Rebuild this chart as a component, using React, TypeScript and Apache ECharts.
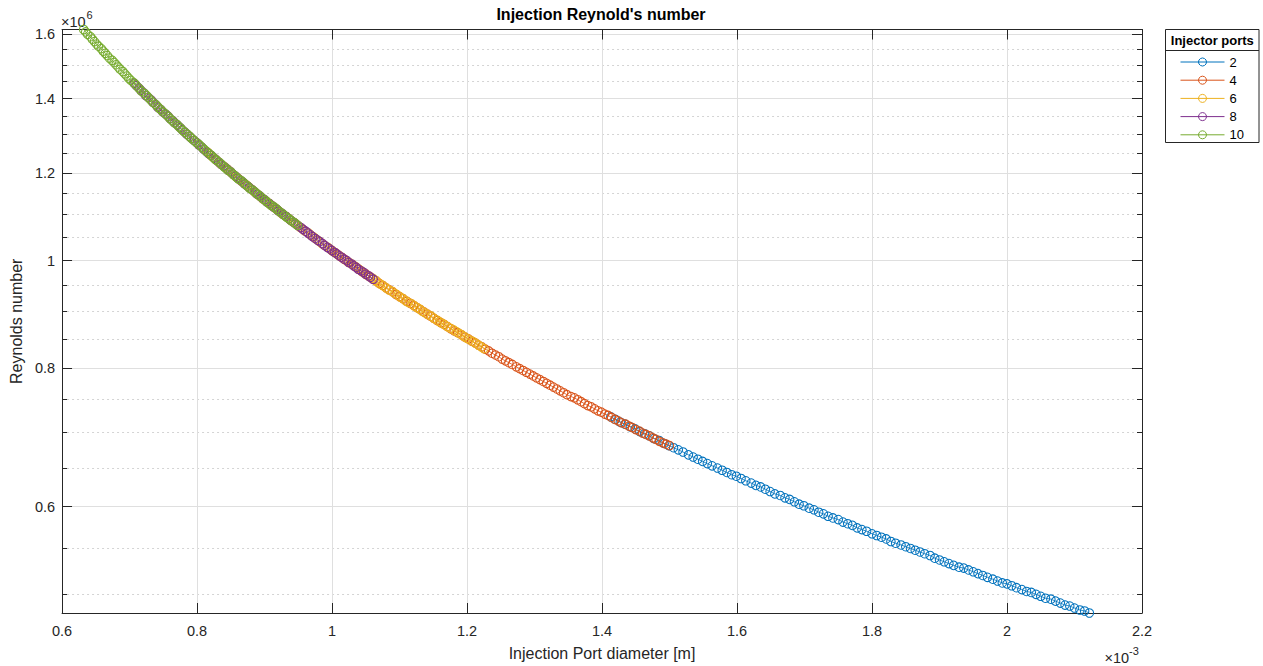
import React, { useEffect, useRef } from "react";
import * as echarts from "echarts";

// Injection port diameter (x 1e-3 m) and Reynolds number (x 1e6) per injector-port count
const portLabels = ["2", "4", "6", "8", "10"];
const portColors = ["#0072BD", "#D95319", "#EDB120", "#7E2F8E", "#77AC30"];

const d2 = [
  1.413,1.420,1.427,1.434,1.442,1.449,1.456,1.463,1.470,1.477,
  1.485,1.492,1.499,1.506,1.513,1.520,1.528,1.535,1.542,1.549,
  1.556,1.563,1.571,1.578,1.585,1.592,1.599,1.606,1.613,1.621,
  1.628,1.635,1.642,1.649,1.656,1.664,1.671,1.678,1.685,1.692,
  1.699,1.707,1.714,1.721,1.728,1.735,1.742,1.750,1.757,1.764,
  1.771,1.778,1.785,1.792,1.800,1.807,1.814,1.821,1.828,1.835,
  1.843,1.850,1.857,1.864,1.871,1.878,1.886,1.893,1.900,1.907,
  1.914,1.921,1.929,1.936,1.943,1.950,1.957,1.964,1.971,1.979,
  1.986,1.993,2.000,2.007,2.014,2.022,2.029,2.036,2.043,2.050,
  2.057,2.065,2.072,2.079,2.086,2.093,2.100,2.108,2.115,2.122,
];
const re2 = [
  0.723,0.719,0.715,0.712,0.708,0.705,0.701,0.698,0.695,0.691,
  0.688,0.684,0.681,0.678,0.675,0.672,0.668,0.665,0.662,0.659,
  0.656,0.653,0.650,0.647,0.644,0.641,0.639,0.636,0.633,0.630,
  0.627,0.625,0.622,0.619,0.616,0.614,0.611,0.609,0.606,0.603,
  0.601,0.598,0.596,0.593,0.591,0.588,0.586,0.584,0.581,0.579,
  0.577,0.574,0.572,0.570,0.567,0.565,0.563,0.561,0.558,0.556,
  0.554,0.552,0.550,0.548,0.546,0.544,0.542,0.539,0.537,0.535,
  0.533,0.531,0.529,0.528,0.526,0.524,0.522,0.520,0.518,0.516,
  0.514,0.512,0.511,0.509,0.507,0.505,0.503,0.502,0.500,0.498,
  0.496,0.495,0.493,0.491,0.489,0.488,0.486,0.484,0.483,0.481,
];

const d4 = [
  0.999,1.004,1.009,1.014,1.019,1.024,1.030,1.035,1.040,1.045,
  1.050,1.055,1.060,1.065,1.070,1.075,1.080,1.085,1.090,1.095,
  1.100,1.105,1.111,1.116,1.121,1.126,1.131,1.136,1.141,1.146,
  1.151,1.156,1.161,1.166,1.171,1.176,1.181,1.186,1.192,1.197,
  1.202,1.207,1.212,1.217,1.222,1.227,1.232,1.237,1.242,1.247,
  1.252,1.257,1.262,1.267,1.273,1.278,1.283,1.288,1.293,1.298,
  1.303,1.308,1.313,1.318,1.323,1.328,1.333,1.338,1.343,1.348,
  1.354,1.359,1.364,1.369,1.374,1.379,1.384,1.389,1.394,1.399,
  1.404,1.409,1.414,1.419,1.424,1.429,1.435,1.440,1.445,1.450,
  1.455,1.460,1.465,1.470,1.475,1.480,1.485,1.490,1.495,1.500,
];
const re4 = [
  1.022,1.017,1.012,1.007,1.002,0.997,0.992,0.987,0.982,0.977,
  0.973,0.968,0.963,0.959,0.954,0.950,0.945,0.941,0.937,0.932,
  0.928,0.924,0.919,0.915,0.911,0.907,0.903,0.899,0.895,0.891,
  0.887,0.883,0.879,0.876,0.872,0.868,0.864,0.861,0.857,0.853,
  0.850,0.846,0.843,0.839,0.836,0.832,0.829,0.825,0.822,0.819,
  0.815,0.812,0.809,0.806,0.802,0.799,0.796,0.793,0.790,0.787,
  0.784,0.781,0.778,0.775,0.772,0.769,0.766,0.763,0.760,0.757,
  0.754,0.752,0.749,0.746,0.743,0.740,0.738,0.735,0.732,0.730,
  0.727,0.725,0.722,0.719,0.717,0.714,0.712,0.709,0.707,0.704,
  0.702,0.699,0.697,0.695,0.692,0.690,0.687,0.685,0.683,0.681,
];

const d6 = [
  0.816,0.820,0.824,0.828,0.832,0.836,0.841,0.845,0.849,0.853,
  0.857,0.861,0.865,0.870,0.874,0.878,0.882,0.886,0.890,0.894,
  0.898,0.903,0.907,0.911,0.915,0.919,0.923,0.927,0.932,0.936,
  0.940,0.944,0.948,0.952,0.956,0.960,0.965,0.969,0.973,0.977,
  0.981,0.985,0.989,0.994,0.998,1.002,1.006,1.010,1.014,1.018,
  1.022,1.027,1.031,1.035,1.039,1.043,1.047,1.051,1.056,1.060,
  1.064,1.068,1.072,1.076,1.080,1.084,1.089,1.093,1.097,1.101,
  1.105,1.109,1.113,1.118,1.122,1.126,1.130,1.134,1.138,1.142,
  1.147,1.151,1.155,1.159,1.163,1.167,1.171,1.175,1.180,1.184,
  1.188,1.192,1.196,1.200,1.204,1.209,1.213,1.217,1.221,1.225,
];
const re6 = [
  1.252,1.245,1.239,1.233,1.227,1.221,1.215,1.209,1.203,1.197,
  1.191,1.186,1.180,1.174,1.169,1.163,1.158,1.152,1.147,1.142,
  1.136,1.131,1.126,1.121,1.116,1.111,1.106,1.101,1.096,1.091,
  1.086,1.082,1.077,1.072,1.068,1.063,1.059,1.054,1.050,1.045,
  1.041,1.036,1.032,1.028,1.023,1.019,1.015,1.011,1.007,1.003,
  0.999,0.995,0.991,0.987,0.983,0.979,0.975,0.971,0.967,0.964,
  0.960,0.956,0.952,0.949,0.945,0.941,0.938,0.934,0.931,0.927,
  0.924,0.920,0.917,0.914,0.910,0.907,0.904,0.900,0.897,0.894,
  0.891,0.887,0.884,0.881,0.878,0.875,0.872,0.869,0.866,0.863,
  0.860,0.857,0.854,0.851,0.848,0.845,0.842,0.839,0.836,0.833,
];

const d8 = [
  0.707,0.710,0.714,0.717,0.721,0.724,0.728,0.732,0.735,0.739,
  0.742,0.746,0.749,0.753,0.757,0.760,0.764,0.767,0.771,0.775,
  0.778,0.782,0.785,0.789,0.792,0.796,0.800,0.803,0.807,0.810,
  0.814,0.817,0.821,0.825,0.828,0.832,0.835,0.839,0.843,0.846,
  0.850,0.853,0.857,0.860,0.864,0.868,0.871,0.875,0.878,0.882,
  0.886,0.889,0.893,0.896,0.900,0.903,0.907,0.911,0.914,0.918,
  0.921,0.925,0.928,0.932,0.936,0.939,0.943,0.946,0.950,0.954,
  0.957,0.961,0.964,0.968,0.971,0.975,0.979,0.982,0.986,0.989,
  0.993,0.996,1.000,1.004,1.007,1.011,1.014,1.018,1.022,1.025,
  1.029,1.032,1.036,1.039,1.043,1.047,1.050,1.054,1.057,1.061,
];
const re8 = [
  1.445,1.438,1.431,1.424,1.417,1.409,1.403,1.396,1.389,1.382,
  1.375,1.369,1.362,1.356,1.350,1.343,1.337,1.331,1.325,1.318,
  1.312,1.306,1.300,1.294,1.289,1.283,1.277,1.271,1.266,1.260,
  1.254,1.249,1.244,1.238,1.233,1.227,1.222,1.217,1.212,1.207,
  1.202,1.197,1.192,1.187,1.182,1.177,1.172,1.167,1.163,1.158,
  1.153,1.148,1.144,1.139,1.135,1.130,1.126,1.121,1.117,1.113,
  1.108,1.104,1.100,1.096,1.091,1.087,1.083,1.079,1.075,1.071,
  1.067,1.063,1.059,1.055,1.051,1.047,1.043,1.040,1.036,1.032,
  1.028,1.025,1.021,1.017,1.014,1.010,1.007,1.003,1.000,0.996,
  0.993,0.989,0.986,0.982,0.979,0.976,0.972,0.969,0.966,0.962,
];

const d10 = [
  0.632,0.635,0.638,0.642,0.645,0.648,0.651,0.654,0.658,0.661,
  0.664,0.667,0.670,0.674,0.677,0.680,0.683,0.686,0.690,0.693,
  0.696,0.699,0.702,0.706,0.709,0.712,0.715,0.718,0.722,0.725,
  0.728,0.731,0.734,0.738,0.741,0.744,0.747,0.750,0.754,0.757,
  0.760,0.763,0.766,0.770,0.773,0.776,0.779,0.782,0.786,0.789,
  0.792,0.795,0.798,0.802,0.805,0.808,0.811,0.814,0.818,0.821,
  0.824,0.827,0.830,0.834,0.837,0.840,0.843,0.846,0.850,0.853,
  0.856,0.859,0.862,0.866,0.869,0.872,0.875,0.878,0.882,0.885,
  0.888,0.891,0.894,0.898,0.901,0.904,0.907,0.910,0.914,0.917,
  0.920,0.923,0.927,0.930,0.933,0.936,0.939,0.943,0.946,0.949,
];
const re10 = [
  1.616,1.608,1.600,1.592,1.584,1.576,1.568,1.561,1.553,1.545,
  1.538,1.531,1.523,1.516,1.509,1.502,1.495,1.488,1.481,1.474,
  1.467,1.460,1.454,1.447,1.441,1.434,1.428,1.421,1.415,1.409,
  1.403,1.396,1.390,1.384,1.378,1.372,1.367,1.361,1.355,1.349,
  1.343,1.338,1.332,1.327,1.321,1.316,1.310,1.305,1.300,1.294,
  1.289,1.284,1.279,1.274,1.269,1.264,1.259,1.254,1.249,1.244,
  1.239,1.234,1.230,1.225,1.220,1.215,1.211,1.206,1.202,1.197,
  1.193,1.188,1.184,1.180,1.175,1.171,1.167,1.162,1.158,1.154,
  1.150,1.146,1.142,1.137,1.133,1.129,1.125,1.121,1.118,1.114,
  1.110,1.106,1.102,1.098,1.094,1.091,1.087,1.083,1.080,1.076,
];

const xMin = 0.6;
const xMax = 2.2;
const xStep = 0.2;
const yMajorTicks = [0.6, 0.8, 1, 1.2, 1.4, 1.6];
const yMinorTicks = [0.5, 0.55, 0.65, 0.7, 0.75, 0.85, 0.9, 0.95, 1.05, 1.1, 1.15, 1.25, 1.3, 1.35, 1.45, 1.5, 1.55];

const FONT = "'Liberation Sans', Arial, Helvetica, sans-serif";
const AXIS_COLOR = "#262626";

export default function App() {
  const ref = useRef<HTMLDivElement | null>(null);

  useEffect(() => {
    if (!ref.current) return;
    const chart = echarts.init(ref.current, undefined, { renderer: "svg" });

    const xs = [d2, d4, d6, d8, d10];
    const ys = [re2, re4, re6, re8, re10];
    const allRe = ([] as number[]).concat(...ys);
    const yMin = Math.log10(Math.min(...allRe));
    const yMax = Math.log10(Math.max(...allRe));
    const majorLog = yMajorTicks.map((v) => Math.log10(v));
    const minorLog = yMinorTicks.map((v) => Math.log10(v));

    const yBase = {
      type: "value",
      min: yMin,
      max: yMax,
      scale: true,
    };

    const series = portLabels.map((name, k) => ({
      name,
      type: "line",
      xAxisIndex: 0,
      yAxisIndex: 0,
      color: portColors[k],
      data: xs[k].map((x, i) => [x, Math.log10(ys[k][i])]),
      symbol: "circle",
      symbolSize: 8.5,
      showSymbol: true,
      itemStyle: { color: "transparent", borderColor: portColors[k], borderWidth: 1.05 },
      lineStyle: { color: portColors[k], width: 0.8 },
      emphasis: { disabled: true },
      silent: true,
      z: 2 + k,
    }));

    const option: any = {
      animation: false,
      backgroundColor: "#ffffff",
      textStyle: { fontFamily: FONT },
      grid: { left: 60, right: 121, top: 29.5, bottom: 51, containLabel: false },
      xAxis: [
        {
          type: "value",
          position: "bottom",
          min: xMin,
          max: xMax,
          interval: xStep,
          name: "Injection Port diameter [m]",
          nameLocation: "middle",
          nameGap: 32,
          nameTextStyle: { fontSize: 16, color: AXIS_COLOR, fontFamily: FONT },
          axisLine: { show: true, onZero: false, lineStyle: { color: AXIS_COLOR, width: 1 } },
          axisTick: { show: true, inside: true, length: 10, lineStyle: { color: AXIS_COLOR, width: 1 } },
          axisLabel: { show: true, margin: 10, fontSize: 14.5, color: AXIS_COLOR, fontFamily: FONT },
          splitLine: { show: true, lineStyle: { color: "#dfdfdf", width: 1 } },
        },
        {
          type: "value",
          position: "top",
          min: xMin,
          max: xMax,
          interval: xStep,
          axisLine: { show: true, onZero: false, lineStyle: { color: AXIS_COLOR, width: 1 } },
          axisTick: { show: true, inside: true, length: 10, lineStyle: { color: AXIS_COLOR, width: 1 } },
          axisLabel: { show: false },
          splitLine: { show: false },
        },
      ],
      yAxis: [
        {
          ...yBase,
          position: "left",
          name: "Reynolds number",
          nameLocation: "middle",
          nameGap: 34,
          nameTextStyle: { fontSize: 16, color: AXIS_COLOR, fontFamily: FONT },
          axisLine: { show: true, onZero: false, lineStyle: { color: AXIS_COLOR, width: 1 } },
          axisTick: { show: true, inside: true, length: 10, customValues: majorLog, lineStyle: { color: AXIS_COLOR, width: 1 } },
          axisLabel: {
            show: true,
            margin: 7,
            fontSize: 14.5,
            color: AXIS_COLOR,
            fontFamily: FONT,
            customValues: majorLog,
            formatter: (v: number) => String(Number(Math.pow(10, v).toFixed(2))),
          },
          splitLine: { show: true, lineStyle: { color: "#dfdfdf", width: 1 } },
        },
        {
          ...yBase,
          position: "left",
          axisLine: { show: false },
          axisTick: { show: true, inside: true, length: 5, customValues: minorLog, lineStyle: { color: AXIS_COLOR, width: 1 } },
          axisLabel: { show: false },
          splitLine: { show: true, lineStyle: { color: "#d4d4d4", width: 1, type: [2, 3] } },
        },
        {
          ...yBase,
          position: "right",
          axisLine: { show: true, onZero: false, lineStyle: { color: AXIS_COLOR, width: 1 } },
          axisTick: { show: true, inside: true, length: 10, customValues: majorLog, lineStyle: { color: AXIS_COLOR, width: 1 } },
          axisLabel: { show: false },
          splitLine: { show: false },
        },
        {
          ...yBase,
          position: "right",
          axisLine: { show: false },
          axisTick: { show: true, inside: true, length: 5, customValues: minorLog, lineStyle: { color: AXIS_COLOR, width: 1 } },
          axisLabel: { show: false },
          splitLine: { show: false },
        },
      ],
      legend: {
        orient: "vertical",
        left: 1180,
        top: 55,
        padding: 0,
        itemGap: 4.2,
        itemWidth: 44,
        itemHeight: 10,
        selectedMode: false,
        textStyle: { fontSize: 13, color: "#000", fontFamily: FONT, lineHeight: 14 },
        data: portLabels.map((name, k) => ({
          name,
          itemStyle: { color: "transparent", borderColor: portColors[k], borderWidth: 1 },
          lineStyle: { color: portColors[k], width: 1 },
        })),
      },
      graphic: [
        {
          type: "rect",
          z: 0,
          shape: { x: 1165.5, y: 29.5, width: 93.5, height: 113 },
          style: { fill: "#ffffff", stroke: AXIS_COLOR, lineWidth: 1 },
        },
        {
          type: "line",
          z: 1,
          shape: { x1: 1165.5, y1: 50.5, x2: 1259, y2: 50.5 },
          style: { stroke: AXIS_COLOR, lineWidth: 1 },
        },
        {
          type: "text",
          z: 5,
          x: 1212.3,
          y: 40.5,
          style: { text: "Injector ports", font: `bold 13px ${FONT}`, fill: "#000", textAlign: "center", textVerticalAlign: "middle" },
        },
        {
          type: "text",
          z: 5,
          x: 601,
          y: 14,
          style: { text: "Injection Reynold's number", font: `bold 16px ${FONT}`, fill: "#000", textAlign: "center", textVerticalAlign: "middle" },
        },
        {
          type: "text",
          z: 5,
          x: 61,
          y: 21.5,
          style: { text: "×10", font: `14.5px ${FONT}`, fill: AXIS_COLOR, textAlign: "left", textVerticalAlign: "middle" },
        },
        {
          type: "text",
          z: 5,
          x: 86.5,
          y: 14.5,
          style: { text: "6", font: `11px ${FONT}`, fill: AXIS_COLOR, textAlign: "left", textVerticalAlign: "middle" },
        },
        {
          type: "text",
          z: 5,
          x: 1104.5,
          y: 657.5,
          style: { text: "×10", font: `14.5px ${FONT}`, fill: AXIS_COLOR, textAlign: "left", textVerticalAlign: "middle" },
        },
        {
          type: "text",
          z: 5,
          x: 1129,
          y: 651,
          style: { text: "-3", font: `11px ${FONT}`, fill: AXIS_COLOR, textAlign: "left", textVerticalAlign: "middle" },
        },
      ],
      series,
    };

    chart.setOption(option);
    return () => {
      chart.dispose();
    };
  }, []);

  return (
    <div
      ref={ref}
      style={{ position: "fixed", left: 0, top: 0, width: 1263, height: 666, background: "#ffffff" }}
    />
  );
}
